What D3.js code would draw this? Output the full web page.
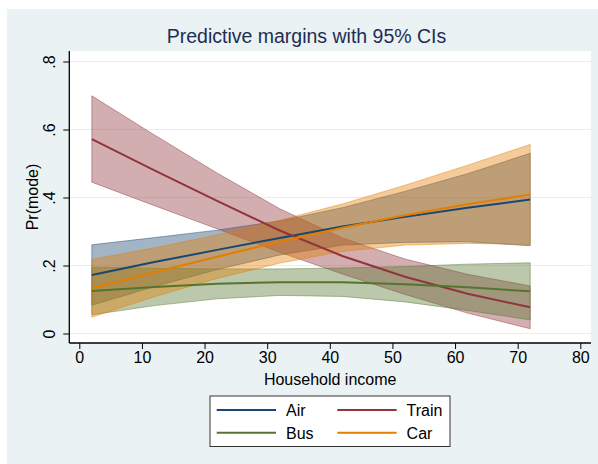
<!DOCTYPE html>
<html>
<head>
<meta charset="utf-8">
<script src="https://cdn.jsdelivr.net/npm/d3@7"></script>
<style>
  html, body { margin: 0; padding: 0; background: #ffffff; }
  svg { display: block; font-family: "Liberation Sans", Arial, sans-serif; }
</style>
</head>
<body>
<svg id="chart" width="598" height="464"></svg>
<script>
// Household income values at which the margins were evaluated
const income = [2, 12, 22, 32, 42, 52, 62, 72];

// Predicted probabilities and 95% confidence limits, by travel mode
const airMean   = [0.172, 0.210, 0.246, 0.281, 0.315, 0.343, 0.370, 0.394];
const airLo     = [0.083, 0.138, 0.188, 0.231, 0.260, 0.268, 0.270, 0.258];
const airHi     = [0.261, 0.282, 0.304, 0.331, 0.370, 0.418, 0.470, 0.530];

const trainMean = [0.572, 0.480, 0.390, 0.303, 0.228, 0.167, 0.117, 0.077];
const trainLo   = [0.445, 0.376, 0.308, 0.239, 0.175, 0.115, 0.060, 0.014];
const trainHi   = [0.699, 0.584, 0.472, 0.367, 0.281, 0.219, 0.174, 0.140];

const busMean   = [0.125, 0.137, 0.146, 0.151, 0.151, 0.145, 0.136, 0.124];
const busLo     = [0.055, 0.082, 0.102, 0.112, 0.109, 0.093, 0.068, 0.040];
const busHi     = [0.195, 0.192, 0.190, 0.190, 0.193, 0.197, 0.204, 0.208];

const carMean   = [0.133, 0.180, 0.226, 0.270, 0.311, 0.348, 0.380, 0.409];
const carLo     = [0.048, 0.108, 0.162, 0.207, 0.241, 0.260, 0.265, 0.262];
const carHi     = [0.218, 0.252, 0.290, 0.333, 0.381, 0.436, 0.495, 0.556];

const modes  = ["Air", "Train", "Bus", "Car"];
const colors = ["#1a476f", "#90353b", "#55752f", "#e37e00"];

// Axis ticks
const xTicks = [0, 10, 20, 30, 40, 50, 60, 70, 80];
const yTicks = [0, 0.2, 0.4, 0.6, 0.8];
const yTickLabels = ["0", ".2", ".4", ".6", ".8"];

const titleText = "Predictive margins with 95% CIs";
const xTitle = "Household income";
const yTitle = "Pr(mode)";

const series = [
  { name: modes[0], color: colors[0], mean: airMean,   lo: airLo,   hi: airHi },
  { name: modes[1], color: colors[1], mean: trainMean, lo: trainLo, hi: trainHi },
  { name: modes[2], color: colors[2], mean: busMean,   lo: busLo,   hi: busHi },
  { name: modes[3], color: colors[3], mean: carMean,   lo: carLo,   hi: carHi }
];

const svg = d3.select("#chart");

// Graph region background
svg.append("rect")
  .attr("x", 7).attr("y", 9).attr("width", 591).attr("height", 455)
  .attr("fill", "#eaf2f3");

// Plot region
const plot = { left: 69.3, right: 591, top: 51, bottom: 343 };
svg.append("rect")
  .attr("x", plot.left).attr("y", plot.top)
  .attr("width", plot.right - plot.left).attr("height", plot.bottom - plot.top)
  .attr("fill", "#ffffff");

const x = d3.scaleLinear().domain([0, 80]).range([79.3, 580.3]);
const y = d3.scaleLinear().domain([0, 0.8]).range([333.5, 61.5]);

// Horizontal grid lines
svg.append("g")
  .selectAll("line")
  .data(yTicks)
  .join("line")
  .attr("x1", plot.left).attr("x2", plot.right)
  .attr("y1", d => y(d)).attr("y2", d => y(d))
  .attr("stroke", "#e6eef0")
  .attr("stroke-width", 1.2);

// Confidence bands
const area = d3.area()
  .x((d, i) => x(income[i]))
  .y0(d => y(d[0]))
  .y1(d => y(d[1]));

const bands = svg.append("g");
series.forEach(s => {
  const pts = income.map((_, i) => [s.lo[i], s.hi[i]]);
  bands.append("path")
    .datum(pts)
    .attr("d", area.lineY0 ? area(pts) : area(pts))
    .attr("fill", s.color)
    .attr("fill-opacity", 0.4)
    .attr("stroke", s.color)
    .attr("stroke-opacity", 0.45)
    .attr("stroke-width", 1);
});

// Predicted probability lines
const line = d3.line()
  .x((d, i) => x(income[i]))
  .y(d => y(d));

const lines = svg.append("g");
series.forEach(s => {
  lines.append("path")
    .datum(s.mean)
    .attr("d", line)
    .attr("fill", "none")
    .attr("stroke", s.color)
    .attr("stroke-width", 2);
});

// Axes
const xAxis = d3.axisBottom(x).tickValues(xTicks).tickSize(6).tickPadding(3);
const gx = svg.append("g")
  .attr("transform", `translate(0,${plot.bottom})`)
  .call(xAxis);
gx.select(".domain").remove();
gx.selectAll(".tick line").attr("stroke", "#000").attr("stroke-width", 1);
gx.selectAll(".tick text")
  .attr("font-size", 16)
  .attr("fill", "#000")
  .attr("font-family", "Liberation Sans, Arial, sans-serif");

const yAxis = d3.axisLeft(y).tickValues(yTicks).tickFormat((d, i) => yTickLabels[i]).tickSize(6);
const gy = svg.append("g")
  .attr("transform", `translate(${plot.left},0)`)
  .call(yAxis);
gy.select(".domain").remove();
gy.selectAll(".tick line").attr("stroke", "#000").attr("stroke-width", 1);
gy.selectAll(".tick text")
  .attr("font-size", 16)
  .attr("fill", "#000")
  .attr("font-family", "Liberation Sans, Arial, sans-serif")
  .attr("x", null).attr("dy", null)
  .attr("text-anchor", "middle")
  .attr("transform", `translate(-14.8,0) rotate(-90)`);

// Axis lines
svg.append("line")
  .attr("x1", plot.left).attr("x2", plot.left)
  .attr("y1", plot.top).attr("y2", plot.bottom)
  .attr("stroke", "#000").attr("stroke-width", 1.3);
svg.append("line")
  .attr("x1", plot.left).attr("x2", plot.right)
  .attr("y1", plot.bottom).attr("y2", plot.bottom)
  .attr("stroke", "#000").attr("stroke-width", 1.3);

// Titles
svg.append("text")
  .attr("x", 306.5).attr("y", 43)
  .attr("text-anchor", "middle")
  .attr("font-size", 19.5)
  .attr("fill", "#1e2d53")
  .text(titleText);

svg.append("text")
  .attr("x", (plot.left + plot.right) / 2).attr("y", 385)
  .attr("text-anchor", "middle")
  .attr("font-size", 16)
  .attr("fill", "#000")
  .text(xTitle);

svg.append("text")
  .attr("transform", `translate(37.5,${(plot.top + plot.bottom) / 2}) rotate(-90)`)
  .attr("text-anchor", "middle")
  .attr("font-size", 16)
  .attr("fill", "#000")
  .text(yTitle);

// Legend
const legend = svg.append("g");
legend.append("rect")
  .attr("x", 210).attr("y", 396).attr("width", 240).attr("height", 50.5)
  .attr("fill", "#ffffff")
  .attr("stroke", "#333")
  .attr("stroke-width", 1);

const legendCols = [216.7, 337.3];
const legendRows = [410, 432.7];
series.forEach((s, i) => {
  const cx = legendCols[i % 2];
  const cy = legendRows[Math.floor(i / 2)];
  legend.append("line")
    .attr("x1", cx).attr("x2", cx + 59.3)
    .attr("y1", cy).attr("y2", cy)
    .attr("stroke", s.color).attr("stroke-width", 2);
  legend.append("text")
    .attr("x", cx + 69.3).attr("y", cy + 5.8)
    .attr("font-size", 16)
    .attr("fill", "#000")
    .text(s.name);
});
</script>
</body>
</html>
